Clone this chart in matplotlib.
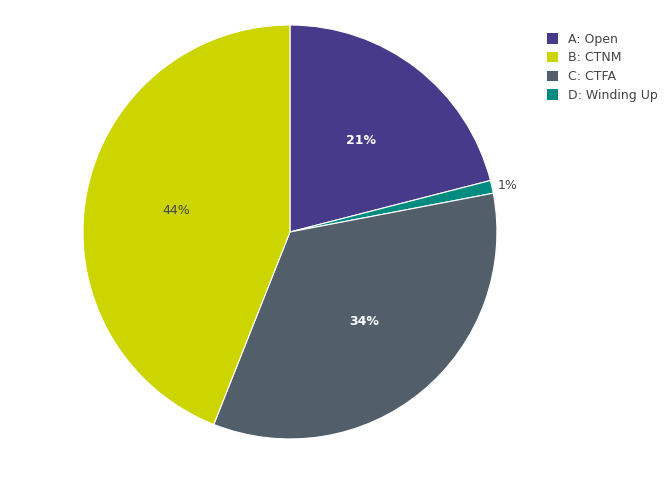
import matplotlib.pyplot as plt
from matplotlib.patches import Patch

# slices in drawing order (clockwise from top)
labels = ["A: Open", "D: Winding Up", "C: CTFA", "B: CTNM"]
values = [21, 1, 34, 44]
colors = ["#483a8b", "#008b80", "#525f6b", "#ccd500"]
text_colors = ["white", "#444444", "white", "#444444"]

legend_labels = ["A: Open", "B: CTNM", "C: CTFA", "D: Winding Up"]
legend_colors = ["#483a8b", "#ccd500", "#525f6b", "#008b80"]

fig = plt.figure(figsize=(6.72, 4.8), dpi=100)
ax = fig.add_axes([0.4315 - 0.308, 0.5167 - 0.43125, 0.616, 0.8625])

wedges, texts, autotexts = ax.pie(
    values, colors=colors, startangle=90, counterclock=False,
    autopct="%d%%", pctdistance=0.56,
    wedgeprops=dict(edgecolor="white", linewidth=0.8),
)
for t, c, v in zip(autotexts, text_colors, values):
    t.set_color(c)
    t.set_fontsize(9)
    t.set_clip_on(False)
    if c == "white":
        t.set_fontweight("bold")
    if v < 3:
        x, y = t.get_position()
        t.set_position((1.03 * x / 0.56, 1.03 * y / 0.56))
        t.set_ha("left")
ax.set_xlim(-1, 1)
ax.set_ylim(-1, 1)
ax.set_aspect("equal")
ax.axis("off")

handles = [Patch(facecolor=c) for c in legend_colors]
fig.legend(handles, legend_labels, loc="upper left", bbox_to_anchor=(0.797, 0.955),
           frameon=False, fontsize=9, handlelength=0.9, handleheight=0.9,
           labelspacing=0.45, labelcolor="#444444")

fig.savefig("out.png")
